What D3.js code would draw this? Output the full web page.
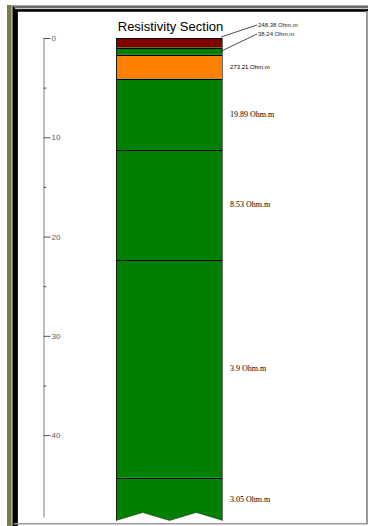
<!DOCTYPE html>
<html>
<head>
<meta charset="utf-8">
<script src="https://cdn.jsdelivr.net/npm/d3@7"></script>
<style>
  html, body { margin: 0; padding: 0; background: #ffffff; }
  svg { display: block; }
</style>
</head>
<body>
<svg id="chart" width="368" height="526"></svg>
<script>
// Layered resistivity model: one entry per layer, top to bottom
const resistivity = [248.38, 38.24, 273.21, 19.89, 8.53, 3.9, 3.05];
const layerTop    = [0, 0.97, 1.7, 4.1, 11.28, 22.36, 44.3];   // depth of each layer top (m)
const sectionBase = 48.6;                                        // depth where the drawn column stops
const layerColors = ["#800000", "#008000", "#ff8000", "#008000", "#008000", "#008000", "#008000"];
const majorTicks  = [0, 10, 20, 30, 40];
const minorTicks  = [5, 15, 25, 35];
const axisMax     = 48.25;

const svg = d3.select("#chart");
const W = 368, H = 526;

// ---- window frame ----
svg.append("rect").attr("x", 0).attr("y", 0).attr("width", W).attr("height", H).attr("fill", "#ffffff");
svg.append("rect").attr("x", 7).attr("y", 5).attr("width", 4).attr("height", H - 5).attr("fill", "#7c7a46");
// top bevel
const topBands = [[5, "#a8a8a8"], [6, "#6a6a6a"], [7, "#6a6a6a"], [8, "#c8c8c8"], [9, "#202020"], [10, "#000000"], [11, "#404040"]];
topBands.forEach(([yy, c]) => svg.append("rect").attr("x", 11).attr("y", yy).attr("width", W - 11).attr("height", 1).attr("fill", c));
// left bevel
const leftBands = [[11, "#a8a8a8"], [12, "#707070"], [13, "#000000"], [14, "#000000"], [15, "#000000"], [16, "#000000"], [17, "#202020"]];
leftBands.forEach(([xx, c]) => svg.append("rect").attr("x", xx).attr("y", 5 + (xx - 11)).attr("width", 1).attr("height", H - 5).attr("fill", c));
// right and bottom edges of the plot panel
svg.append("rect").attr("x", 366).attr("y", 11).attr("width", 2).attr("height", 513).attr("fill", "#9a9a9a");
svg.append("rect").attr("x", 14).attr("y", 523).attr("width", W - 14).attr("height", 1.5).attr("fill", "#9a9a9a");

// ---- scales ----
const y = d3.scaleLinear().domain([0, axisMax]).range([38, 517]);
const colX0 = 116, colX1 = 223;

// ---- title ----
svg.append("text")
  .attr("x", (colX0 + colX1) / 2 + 1).attr("y", 30.5)
  .attr("text-anchor", "middle")
  .attr("font-family", "Liberation Sans, Arial, sans-serif")
  .attr("font-size", 13)
  .attr("fill", "#000")
  .text("Resistivity Section");

// ---- depth axis ----
const axisG = svg.append("g").attr("transform", "translate(43.5,0)");
axisG.call(d3.axisRight(y).tickValues(majorTicks).tickSize(7).tickSizeOuter(0).tickPadding(1).tickFormat(d3.format("d")));
axisG.select(".domain").attr("stroke", "#7a7a7a");
axisG.selectAll(".tick line").attr("stroke", "#555");
axisG.selectAll(".tick text")
  .attr("font-family", "Liberation Sans, Arial, sans-serif")
  .attr("font-size", 8)
  .attr("fill", "#5a5a5a");

const minorG = svg.append("g").attr("transform", "translate(43.5,0)");
minorG.call(d3.axisRight(y).tickValues(minorTicks).tickSize(3).tickSizeOuter(0).tickFormat(""));
minorG.select(".domain").remove();
minorG.selectAll(".tick line").attr("stroke", "#555");

// ---- layer column ----
const layers = resistivity.map((r, i) => ({
  r, color: layerColors[i],
  top: layerTop[i],
  bottom: i < layerTop.length - 1 ? layerTop[i + 1] : sectionBase
}));

const colG = svg.append("g");
layers.forEach((L, i) => {
  const last = i === layers.length - 1;
  if (!last) {
    colG.append("rect")
      .attr("x", colX0).attr("y", y(L.top))
      .attr("width", colX1 - colX0).attr("height", y(L.bottom) - y(L.top))
      .attr("fill", L.color);
  } else {
    // lowest layer is open-ended: zig-zag cut at the base
    const yb = y(L.bottom), amp = 8;
    const w = colX1 - colX0;
    const pts = [
      [colX0, y(L.top)], [colX1, y(L.top)], [colX1, yb],
      [colX0 + w * 0.75, yb - amp], [colX0 + w * 0.5, yb],
      [colX0 + w * 0.25, yb - amp], [colX0, yb]
    ];
    colG.append("path")
      .attr("d", d3.line()(pts) + "Z")
      .attr("fill", L.color);
    colG.append("path")
      .attr("d", d3.line()(pts.slice(2).concat([pts[6]])))
      .attr("fill", "none")
      .attr("stroke", "#1a3a1a").attr("stroke-width", 0.6);
  }
});
// layer boundaries
layers.forEach(L => {
  colG.append("line")
    .attr("x1", colX0).attr("x2", colX1)
    .attr("y1", Math.round(y(L.top)) + 0.5).attr("y2", Math.round(y(L.top)) + 0.5)
    .attr("stroke", "#000").attr("stroke-width", 1);
});
// column sides
colG.append("line").attr("x1", colX0 + 0.5).attr("x2", colX0 + 0.5)
  .attr("y1", y(0)).attr("y2", y(sectionBase)).attr("stroke", "#1a1a1a").attr("stroke-width", 1);
colG.append("line").attr("x1", colX1 - 0.5).attr("x2", colX1 - 0.5)
  .attr("y1", y(0)).attr("y2", y(sectionBase)).attr("stroke", "#6a6a6a").attr("stroke-width", 1);

// ---- resistivity labels ----
const fmt = r => `${r} Ohm.m`;
const labelG = svg.append("g");
layers.forEach((L, i) => {
  const thick = y(L.bottom) - y(L.top);
  if (i < 2) {
    // thin top layers: label above the column with a leader line
    const ly = i === 0 ? y(0) - 13 : y(0) - 4;
    const ty = i === 0 ? y(L.top) - 1 : (y(L.top) + y(L.bottom)) / 2;
    labelG.append("line")
      .attr("x1", colX1 - 2).attr("y1", ty)
      .attr("x2", 257).attr("y2", ly)
      .attr("stroke", "#000").attr("stroke-width", 0.7);
    labelG.append("text")
      .attr("x", 258).attr("y", ly + 2)
      .attr("font-family", "Liberation Sans Narrow, Liberation Sans, sans-serif")
      .attr("font-size", 6)
      .attr("fill", "#222")
      .text(fmt(L.r));
  } else {
    const small = thick < 30;
    labelG.append("text")
      .attr("x", 230).attr("y", (y(L.top) + y(L.bottom)) / 2 + 2.5)
      .attr("font-family", small ? "Liberation Sans Narrow, Liberation Sans, sans-serif" : "Liberation Serif, Times New Roman, serif")
      .attr("font-size", small ? 6 : 8)
      .attr("fill", "#000")
      .text(fmt(L.r));
  }
});
</script>
</body>
</html>
